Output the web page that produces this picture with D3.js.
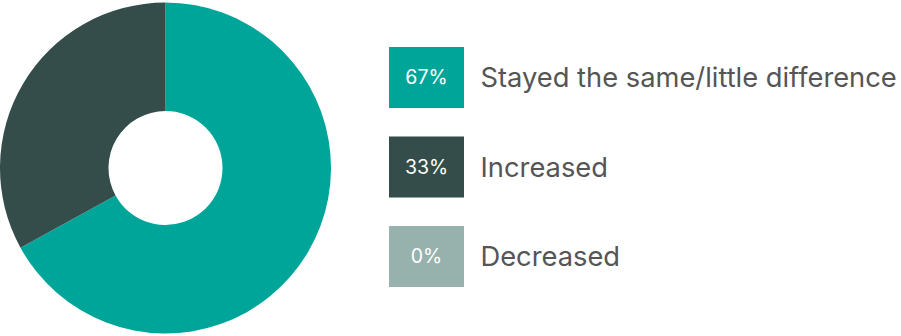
<!DOCTYPE html>
<html><head><meta charset="utf-8">
<script src="https://cdn.jsdelivr.net/npm/d3@7"></script>
<style>html,body{margin:0;padding:0;background:#fff;}svg{display:block;}</style>
</head><body>
<script>
const categories = ["Stayed the same/little difference", "Increased", "Decreased"];
const values = [67, 33, 0];
const colors = ["#00A599", "#344D4A", "#97B1AD"];

const W = 901, H = 336;
const svg = d3.select("body").append("svg").attr("width", W).attr("height", H);

const cx = 165.5, cy = 168, rOuter = 165.5, rInner = 57;
const pie = d3.pie().sort(null).value(d => d.v);
const data = categories.map((c, i) => ({c, v: values[i], col: colors[i]}));
const arc = d3.arc().innerRadius(rInner).outerRadius(rOuter);
svg.append("g").attr("transform", `translate(${cx},${cy})`)
  .selectAll("path").data(pie(data)).join("path")
  .attr("d", arc).attr("fill", d => d.data.col);

const y = d3.scaleBand().domain(categories).range([47, 287]).paddingInner(0.318).paddingOuter(0);
const font = "Inter, 'Noto Sans', sans-serif";
const lg = svg.append("g");
const row = lg.selectAll("g").data(data).join("g")
  .attr("transform", d => `translate(389,${y(d.c)})`);
row.append("rect").attr("width", 75).attr("height", y.bandwidth()).attr("fill", d => d.col);
row.append("text").attr("x", 37.5).attr("y", y.bandwidth() / 2).attr("dy", "0.35em")
  .attr("text-anchor", "middle").attr("fill", "#fff")
  .style("font-family", font).style("font-size", "19.5px")
  .text(d => d.v + "%");
row.append("text").attr("x", 91.5).attr("y", y.bandwidth() / 2).attr("dy", "0.35em")
  .attr("fill", "#555").style("font-family", font).style("font-size", "27.3px")
  .text(d => d.c);
</script>
</body></html>
